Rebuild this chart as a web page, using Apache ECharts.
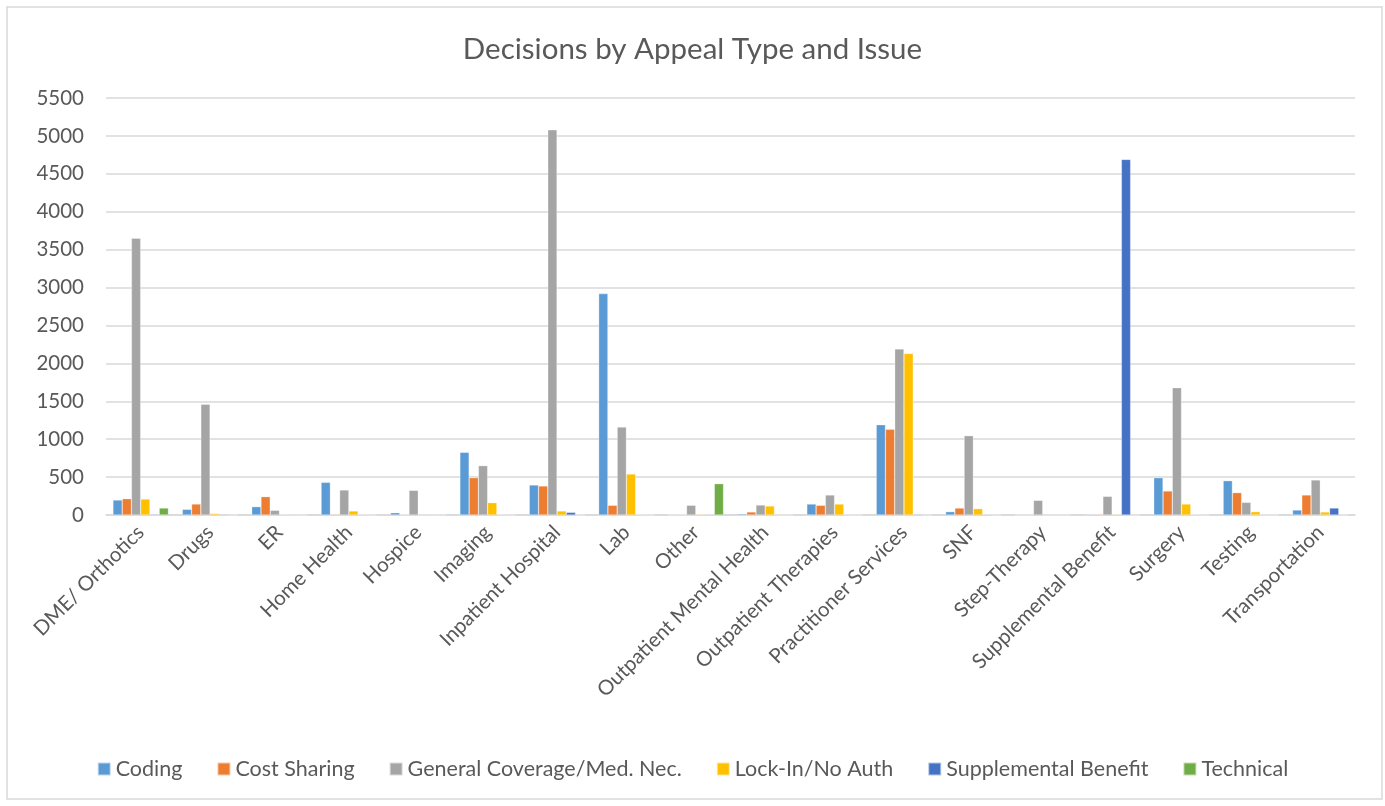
<!DOCTYPE html>
<html>
<head>
<meta charset="utf-8">
<script src="https://cdn.jsdelivr.net/npm/echarts@6/dist/echarts.min.js"></script>
<style>html,body{margin:0;padding:0;background:#fff;}#c{width:1385px;height:806px;}</style>
</head>
<body>
<div id="c"></div>
<script>
const categories = ["DME/ Orthotics","Drugs","ER","Home Health","Hospice","Imaging","Inpatient Hospital","Lab","Other","Outpatient Mental Health","Outpatient Therapies","Practitioner Services","SNF","Step-Therapy","Supplemental Benefit","Surgery","Testing","Transportation"];
const coding       = [198, 75, 110, 431, 30, 827, 396, 2920, 3, 15, 145, 1191, 44, 0, 10, 492, 453, 66];
const costSharing  = [215, 145, 242, 10, 5, 492, 383, 128, 3, 40, 128, 1130, 92, 0, 10, 317, 295, 264];
const generalCov   = [3650, 1460, 62, 330, 325, 651, 5080, 1161, 128, 132, 264, 2190, 1046, 193, 246, 1680, 167, 462];
const lockIn       = [211, 20, 5, 53, 0, 163, 53, 541, 10, 119, 145, 2130, 84, 0, 8, 145, 44, 40];
const supplemental = [10, 10, 0, 5, 0, 5, 35, 5, 8, 0, 3, 10, 8, 0, 4690, 5, 0, 92];
const technical    = [92, 0, 0, 0, 0, 0, 0, 0, 413, 0, 0, 0, 0, 0, 0, 0, 0, 3];
const seriesNames = ["Coding","Cost Sharing","General Coverage/Med. Nec.","Lock-In/No Auth","Supplemental Benefit","Technical"];
const seriesColors = ["#5B9BD5","#ED7D31","#A5A5A5","#FFC000","#4472C4","#70AD47"];
const yTicks = { min: 0, max: 5500, interval: 500 };

const dataSets = [coding, costSharing, generalCov, lockIn, supplemental, technical];
const font = "Lato, 'Open Sans', sans-serif";
const chart = echarts.init(document.getElementById('c'));
chart.setOption({
  animation: false,
  color: seriesColors,
  title: {
    text: "Decisions by Appeal Type and Issue",
    left: 'center', top: 29,
    textStyle: { fontFamily: font, fontSize: 29.5, fontWeight: 'normal', color: '#595959' }
  },
  graphic: [{
    type: 'rect', shape: { x: 7, y: 7, width: 1375, height: 792 },
    style: { fill: 'none', stroke: '#d9d9d9', lineWidth: 1.5 }, silent: true, z: -1
  }],
  legend: {
    bottom: 21, left: 'center', icon: 'rect', itemWidth: 13, itemHeight: 13, itemGap: 34,
    textStyle: { fontFamily: font, fontSize: 21.5, color: '#595959', padding: [0, 0, 0, 0] },
    data: seriesNames
  },
  grid: { left: 106, right: 30, top: 98, bottom: 291 },
  xAxis: {
    type: 'category', data: categories,
    axisLine: { lineStyle: { color: '#d9d9d9', width: 1.5 } },
    axisTick: { show: false },
    axisLabel: { interval: 0, rotate: 45, fontFamily: font, fontSize: 20.5, color: '#595959', margin: 14 }
  },
  yAxis: {
    type: 'value', min: yTicks.min, max: yTicks.max, interval: yTicks.interval,
    axisLine: { show: false }, axisTick: { show: false },
    splitLine: { lineStyle: { color: '#d9d9d9', width: 1.5 } },
    axisLabel: { fontFamily: font, fontSize: 20.5, color: '#595959', margin: 22, formatter: v => String(v) }
  },
  series: dataSets.map((d, i) => ({
    name: seriesNames[i], type: 'bar', data: d,
    barGap: '0%', barCategoryGap: '20%',
    itemStyle: { borderColor: 'rgba(255,255,255,0.6)', borderWidth: 0.5 }
  }))
});
</script>
</body>
</html>
